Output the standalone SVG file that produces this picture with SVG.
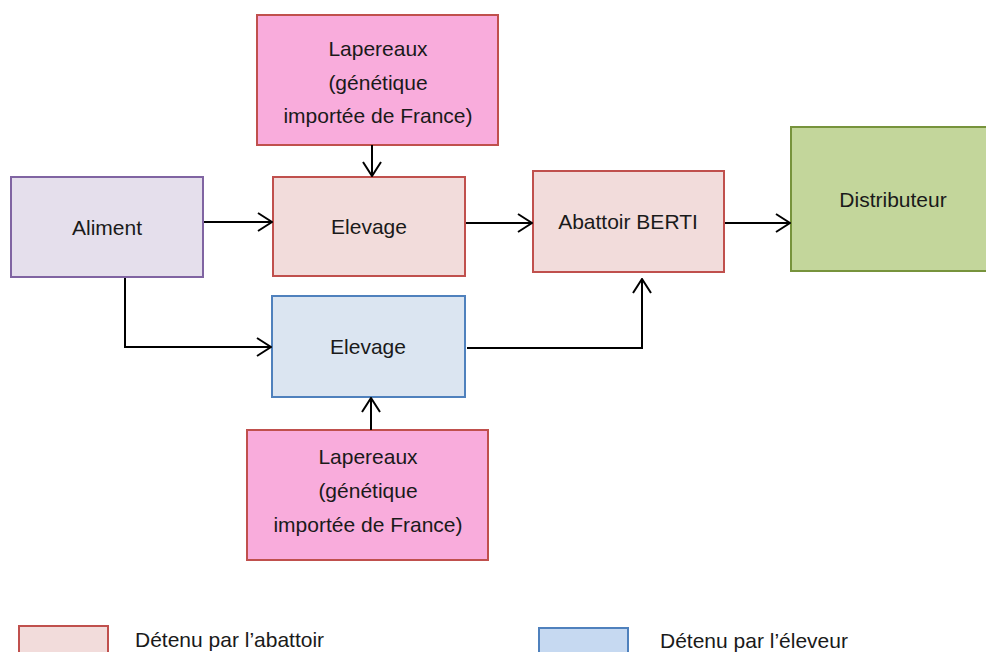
<svg xmlns="http://www.w3.org/2000/svg" width="986" height="652" viewBox="0 0 986 652">
<defs>
<style>
text{font-family:"Liberation Sans","Noto Sans",sans-serif;font-size:21px;fill:#1a1a1a;text-anchor:middle}
.lg{text-anchor:start}
.b{stroke-width:2}
.pink{fill:#F9ACDC;stroke:#C0504D}
.red{fill:#F2DCDB;stroke:#C0504D}
.pur{fill:#E5DFEC;stroke:#8064A2}
.blu{fill:#DBE5F1;stroke:#4F81BD}
.grn{fill:#C3D69B;stroke:#77933C}
.c{fill:none;stroke:#000;stroke-width:2}
</style>
<marker id="ah" viewBox="0 0 16 20" refX="15" refY="10" markerWidth="16" markerHeight="20" markerUnits="userSpaceOnUse" orient="auto">
<path d="M1,1 L15,10 L1,19" fill="none" stroke="#000" stroke-width="2"/>
</marker>
</defs>
<rect width="986" height="652" fill="#fff"/>
<g id="lapereaux-top">
<rect class="b pink" x="257" y="15" width="241" height="130"/>
<text x="378" y="56">Lapereaux</text>
<text x="378" y="90">(génétique</text>
<text x="378" y="123">importée de France)</text>
</g>
<g id="aliment">
<rect class="b pur" x="11" y="177" width="192" height="100"/>
<text x="107" y="235">Aliment</text>
</g>
<g id="elevage-abattoir">
<rect class="b red" x="273" y="177" width="192" height="99"/>
<text x="369" y="234">Elevage</text>
</g>
<g id="abattoir">
<rect class="b red" x="533" y="171" width="191" height="101"/>
<text x="628" y="229">Abattoir BERTI</text>
</g>
<g id="distributeur">
<rect class="b grn" x="791" y="127" width="206" height="144"/>
<text x="893" y="207">Distributeur</text>
</g>
<g id="elevage-eleveur">
<rect class="b blu" x="272" y="296" width="193" height="101"/>
<text x="368" y="354">Elevage</text>
</g>
<g id="lapereaux-bottom">
<rect class="b pink" x="247" y="430" width="241" height="130"/>
<text x="368" y="464">Lapereaux</text>
<text x="368" y="498">(génétique</text>
<text x="368" y="532">importée de France)</text>
</g>
<g id="connectors">
<path class="c" d="M372,145 V176" marker-end="url(#ah)"/>
<path class="c" d="M204,222 H272" marker-end="url(#ah)"/>
<path class="c" d="M466,223 H532" marker-end="url(#ah)"/>
<path class="c" d="M725,223 H790" marker-end="url(#ah)"/>
<path class="c" d="M125,278 V347 H271" marker-end="url(#ah)"/>
<path class="c" d="M467,348 H642 V279" marker-end="url(#ah)"/>
<path class="c" d="M371,430 V398" marker-end="url(#ah)"/>
</g>
<g id="legend">
<rect class="b red" x="19" y="626" width="89" height="40"/>
<text class="lg" x="135" y="647">Détenu par l’abattoir</text>
<rect class="b" fill="#C6D9F1" stroke="#4F81BD" x="539" y="628" width="89" height="40"/>
<text class="lg" x="660" y="648">Détenu par l’éleveur</text>
</g>
</svg>
